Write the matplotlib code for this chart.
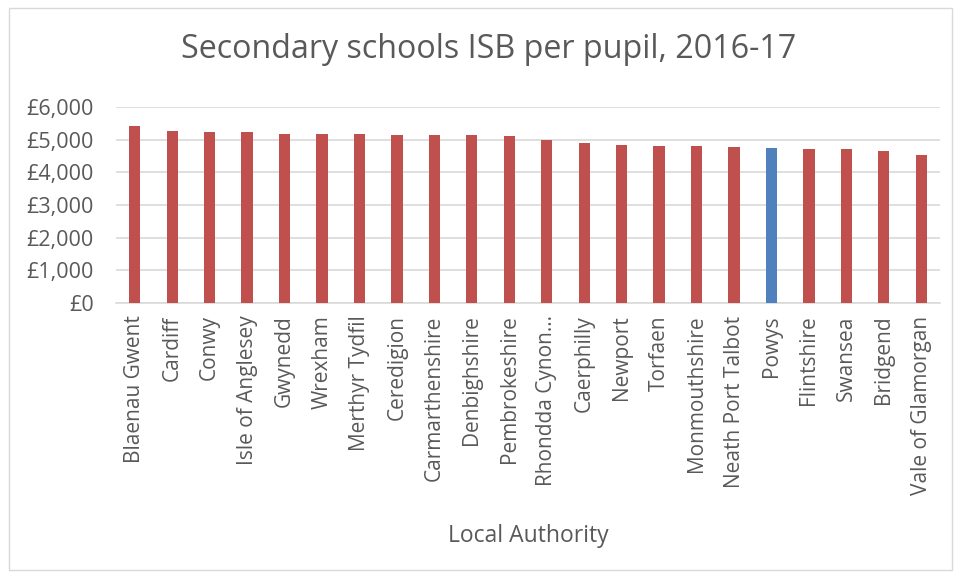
import matplotlib.pyplot as plt
from matplotlib.patches import Rectangle
from matplotlib.ticker import FuncFormatter

plt.rcParams['font.family'] = ['Open Sans', 'DejaVu Sans']

authorities = ['Blaenau Gwent', 'Cardiff', 'Conwy', 'Isle of Anglesey', 'Gwynedd',
               'Wrexham', 'Merthyr Tydfil', 'Ceredigion', 'Carmarthenshire',
               'Denbighshire', 'Pembrokeshire', 'Rhondda Cynon\u2026', 'Caerphilly',
               'Newport', 'Torfaen', 'Monmouthshire', 'Neath Port Talbot', 'Powys',
               'Flintshire', 'Swansea', 'Bridgend', 'Vale of Glamorgan']
isb = [5410, 5255, 5235, 5225, 5175, 5165, 5160, 5145, 5140, 5140, 5100, 4990,
       4890, 4825, 4805, 4795, 4775, 4745, 4715, 4705, 4665, 4520]
highlight = 'Powys'

red = '#C0504D'
blue = '#4F81BD'
grey_text = '#595959'
grid_col = '#D9D9D9'

fig = plt.figure(figsize=(9.6, 5.77), dpi=100)
fig.patches.append(Rectangle((9 / 960, 7 / 577), 943 / 960, 562 / 577,
                             transform=fig.transFigure, fill=False,
                             edgecolor=grid_col, lw=1))
ax = fig.add_axes([116 / 960, 1 - 303 / 577, 824 / 960, 196 / 577])

colors = [blue if a == highlight else red for a in authorities]
x = range(len(authorities))
ax.bar(x, isb, width=0.3, color=colors, zorder=3)

ax.set_xlim(-0.5, len(authorities) - 0.5)
ax.set_ylim(0, 6000)
ax.set_yticks(range(0, 6001, 1000))
ax.yaxis.set_major_formatter(FuncFormatter(lambda v, p: '\u00a3{:,.0f}'.format(v)))
ax.set_xticks(list(x))
ax.set_xticklabels(authorities, rotation=90)
ax.tick_params(axis='both', length=0, labelsize=15, labelcolor=grey_text)
ax.tick_params(axis='y', labelsize=15.5, pad=16)
ax.tick_params(axis='x', pad=9)
ax.grid(axis='y', color=grid_col, lw=1.2, zorder=0)
for s in ['top', 'right', 'left']:
    ax.spines[s].set_visible(False)
ax.spines['bottom'].set_color(grid_col)
ax.spines['bottom'].set_linewidth(1.2)

fig.text(489 / 960, 1 - 50 / 577, 'Secondary schools ISB per pupil, 2016-17',
         ha='center', va='center', fontsize=23.2, color=grey_text)
fig.text(528 / 960, 1 - 536 / 577, 'Local Authority', ha='center', va='center',
         fontsize=16.5, color=grey_text)

fig.savefig('out.png', dpi=100)
